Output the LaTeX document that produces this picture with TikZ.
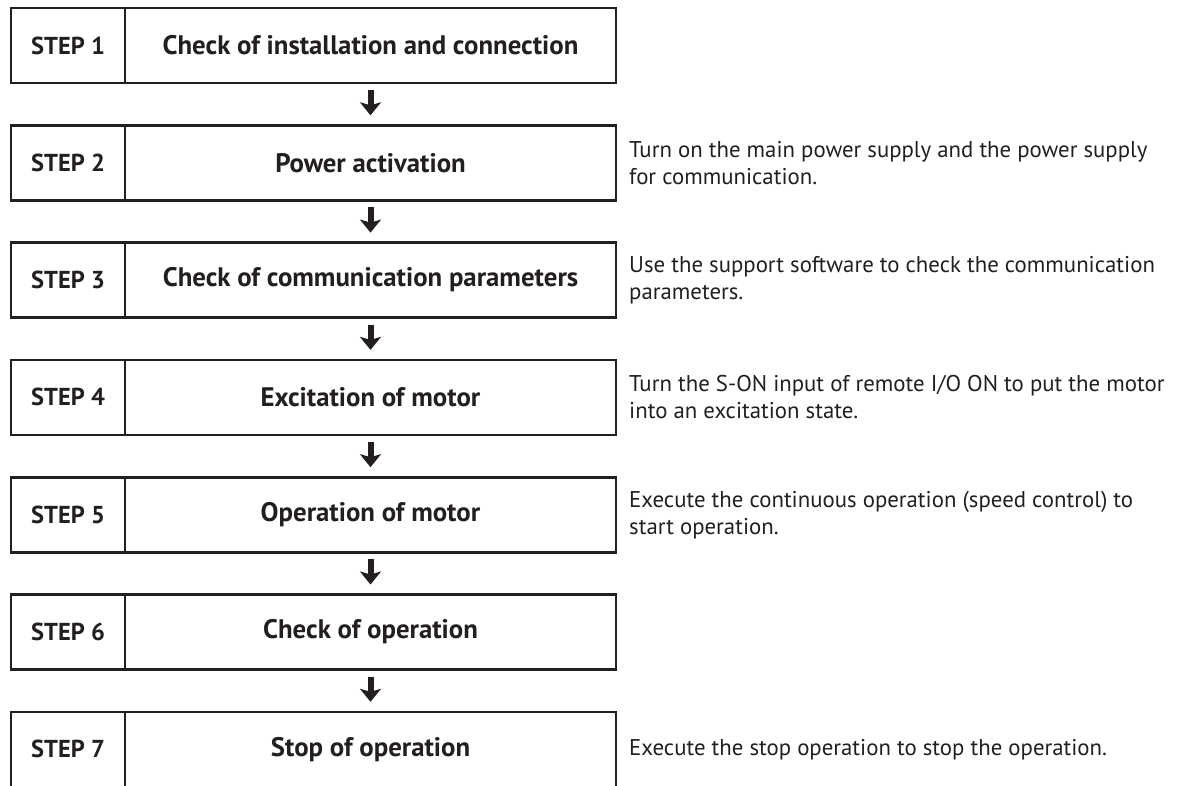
\documentclass[tikz,border=0pt]{standalone}
\usepackage{fontspec}
\setmainfont{PT Sans}
\usetikzlibrary{arrows.meta,positioning}
\definecolor{inkgray}{RGB}{35,31,32}
\tikzset{stepno/.style={draw=inkgray,line width=2.6pt,minimum width=114pt,minimum height=75pt,
  inner sep=0pt,outer sep=0pt,text=inkgray,font=\fontsize{24.5}{28}\selectfont\bfseries},
 steptitle/.style={stepno,minimum width=491pt,font=\fontsize{26.8}{30}\selectfont\bfseries},
 stepnote/.style={align=left,inner sep=0pt,text=inkgray,font=\fontsize{22.8}{27}\selectfont},
 flow/.style={-{Stealth[length=13pt,width=21pt,inset=3pt]},line width=6pt,inkgray,
  shorten <=7pt,shorten >=10pt}}

\begin{document}
\begin{tikzpicture}[x=1pt,y=-1pt]
\useasboundingbox (0,0) rectangle (1184,785);
\node[stepno] (no1) at (68,45.5) {STEP 1};
\node[steptitle,right=0pt of no1] (ti1) {Check of installation and connection};
\node[stepno,below=42.3pt of no1] (no2) {STEP 2};
\node[steptitle,right=0pt of no2] (ti2) {Power activation};
\node[stepno,below=42.3pt of no2] (no3) {STEP 3};
\node[steptitle,right=0pt of no3] (ti3) {Check of communication parameters};
\node[stepno,below=42.3pt of no3] (no4) {STEP 4};
\node[steptitle,right=0pt of no4] (ti4) {Excitation of motor};
\node[stepno,below=42.3pt of no4] (no5) {STEP 5};
\node[steptitle,right=0pt of no5] (ti5) {Operation of motor};
\node[stepno,below=42.3pt of no5] (no6) {STEP 6};
\node[steptitle,right=0pt of no6] (ti6) {Check of operation};
\node[stepno,below=42.3pt of no6] (no7) {STEP 7};
\node[steptitle,right=0pt of no7] (ti7) {Stop of operation};
% notes beside the steps
\node[stepnote,right=13pt of ti2] (nt2) {Turn on the main power supply and the power supply\\for communication.};
\node[stepnote,right=13pt of ti3] (nt3) {Use the support software to check the communication\\parameters.};
\node[stepnote,right=13pt of ti4] (nt4) {Turn the S-ON input of remote I/O ON to put the motor\\into an excitation state.};
\node[stepnote,right=13pt of ti5] (nt5) {Execute the continuous operation (speed control) to\\start operation.};
\node[stepnote,right=13pt of ti7] (nt7) {Execute the stop operation to stop the operation.};
% arrows
\draw[flow] (ti1.south)--(ti2.north);
\draw[flow] (ti2.south)--(ti3.north);
\draw[flow] (ti3.south)--(ti4.north);
\draw[flow] (ti4.south)--(ti5.north);
\draw[flow] (ti5.south)--(ti6.north);
\draw[flow] (ti6.south)--(ti7.north);
\end{tikzpicture}
\end{document}
